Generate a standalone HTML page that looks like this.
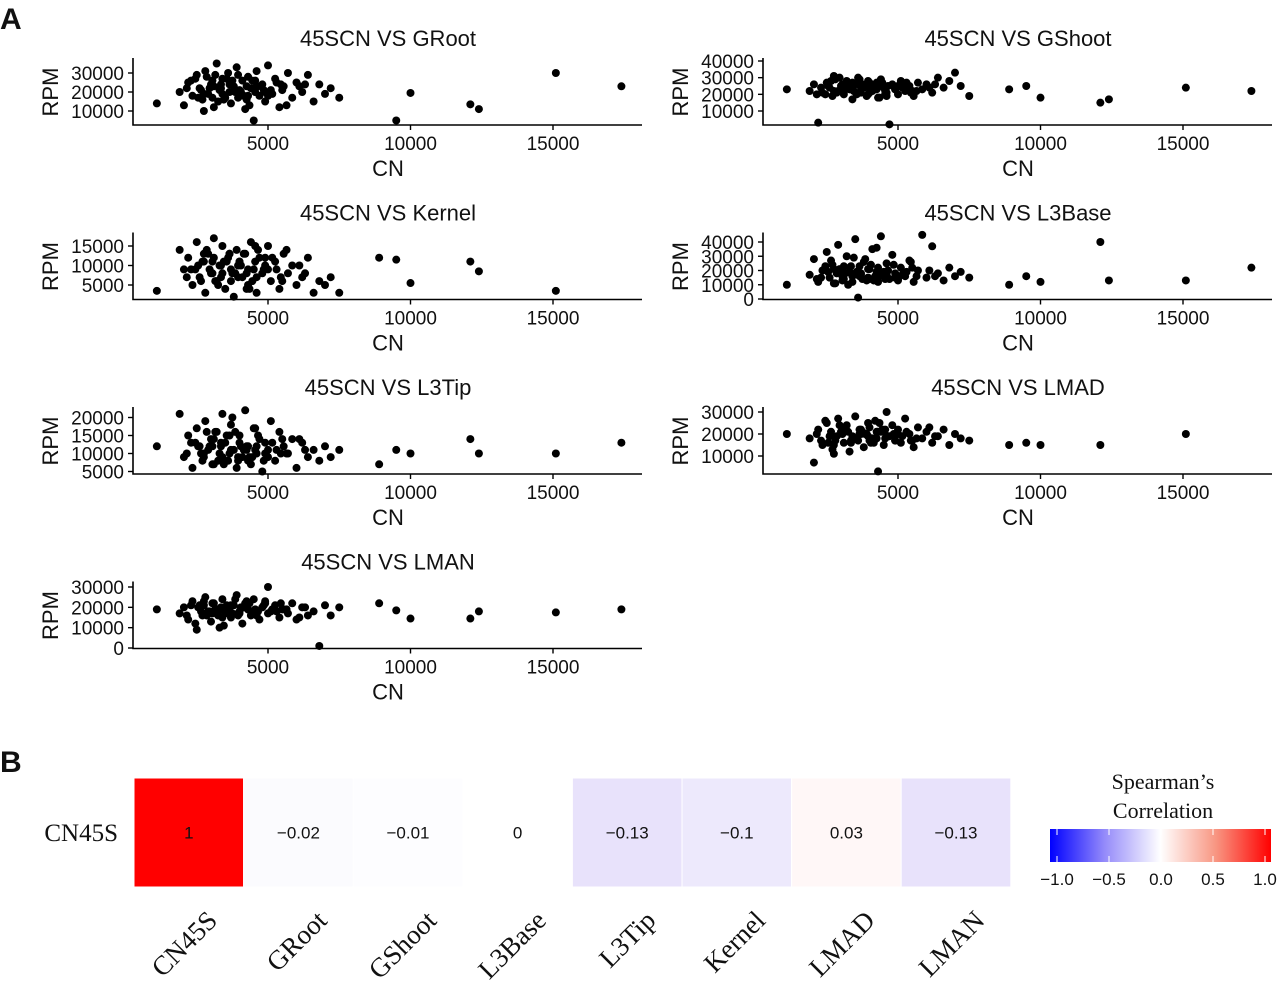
<!DOCTYPE html>
<html><head><meta charset="utf-8"><style>
html,body{margin:0;padding:0;background:#fff;}
svg{display:block;}
.t{font-family:"Liberation Sans",sans-serif;fill:#111;}
.s{font-family:"Liberation Serif",serif;fill:#111;}
</style></head><body>
<svg id="fig" width="1280" height="987" xmlns="http://www.w3.org/2000/svg">
<text x="0" y="29" class="t" font-size="30" font-weight="bold">A</text>
<text x="0" y="772" class="t" font-size="30" font-weight="bold">B</text>
<g id="scatters"></g>
<g id="heat"></g>
</svg>
<script>
const cn = [1100,1900,2050,2200,2350,2500,2600,2700,2800,2900,
3000,3100,3200,3300,3400,3500,3600,3700,3800,3900,
4000,4100,4200,4300,4400,4500,4600,4700,4800,4900,
5000,5100,5250,5400,5550,5700,5850,6000,6200,6400,
6600,6800,7000,7200,7500,2450,2750,3150,3450,3750,
4050,4350,4650,8900,9500,10000,12100,12400,15100,17400,
2300,2650,2850,3050,3350,3650,3950,4250,4550,4850,
5150,5450,3250,3550,2950,4150,4450,3850,5650,6100,
2150,2550,3100,3400,3700,4000,4300,4600,4900,5300,
2750,3050,3350,3650,3950,4250,4550,5000,5500,6300];
const rpmGRoot = [14000,20000,13000,25000,18000,29000,22000,16000,31000,19000,
24000,12000,35000,21000,27000,17000,30000,14000,23000,33000,
19000,26000,11000,28000,22000,5000,31000,18000,24000,15000,
34000,21000,27000,12000,23000,30000,17000,25000,20000,29000,
15000,24000,19000,22000,17000,27000,10000,29000,16000,26000,
20000,13000,23000,null,5000,19500,13500,11000,30000,23000,
26000,21000,28000,17000,24000,20000,29000,16000,26000,21000,
19000,24000,15000,27000,22000,18000,26000,20000,13000,23000,
22000,17000,23000,19000,25000,21000,18000,23000,20000,25000,
19000,26000,22000,24000,17000,23000,20000,18000,21000,24000];
const rpmGShoot = [23000,22000,26000,3000,21000,27000,24000,19000,29000,22000,
25000,20000,28000,23000,17000,26000,30000,21000,24000,19000,
27000,22000,25000,18000,29000,24000,21000,2000,26000,23000,
20000,28000,22000,25000,19000,27000,23000,26000,21000,30000,
24000,28000,33000,25000,19000,20000,31000,24000,22000,26000,
23000,18000,25000,23000,25000,18000,15000,17000,24000,22000,
24000,28000,21000,26000,23000,29000,20000,27000,22000,25000,
24000,21000,26000,20000,30000,23000,27000,25000,22000,24000,
20000,25000,22000,27000,24000,21000,26000,19000,23000,27000,
22000,24000,26000,21000,28000,23000,20000,25000,22000,26000];
const rpmKernel = [3500,14000,9000,12000,5000,16000,7000,11000,3000,13000,
8000,17000,6000,10000,15000,4000,12000,9000,2000,14000,
11000,7000,13000,5000,16000,9000,3000,12000,8000,10000,
15000,6000,11000,4000,13000,8000,10000,5000,7000,12000,
3000,6000,5000,7000,3000,9000,13000,6000,11000,8000,
10000,4000,14000,12000,11500,5500,11000,8500,3500,null,
9000,6000,14000,11000,7000,13000,10000,4000,15000,9000,
12000,7000,5000,11000,9000,13000,6000,8000,14000,10000,
7000,10000,12000,8000,6000,11000,9000,7000,12000,9000,
11000,8000,10000,13000,7000,8000,11000,9000,6000,8000];
const rpmL3Base = [10000,17000,28000,12000,20000,33000,15000,24000,11000,38000,
19000,14000,30000,22000,12000,42000,1000,17000,26000,13000,
21000,35000,16000,12000,44000,19000,25000,14000,31000,18000,
13000,22000,16000,27000,12000,20000,45000,15000,37000,18000,
13000,22000,16000,19000,15000,23000,11000,18000,29000,14000,
24000,16000,20000,10000,16000,12000,40000,13000,13000,22000,
15000,27000,18000,13000,23000,16000,21000,36000,14000,24000,
17000,26000,10000,19000,21000,13000,18000,28000,16000,20000,
14000,19000,23000,16000,18000,14000,22000,17000,15000,19000,
21000,16000,18000,23000,15000,19000,17000,14000,22000,16000];
const rpmL3Tip = [12000,21000,9000,15000,6000,17000,12000,8000,19000,11000,
14000,7000,16000,10000,21000,13000,8000,18000,11000,6000,
15000,9000,22000,12000,7000,17000,10000,14000,5000,13000,
11000,19000,8000,16000,12000,10000,14000,6000,13000,9000,
11000,8000,12000,9000,11000,13000,10000,16000,7000,20000,
12000,9000,15000,7000,11000,10000,14000,10000,10000,13000,
13000,10000,16000,7000,12000,15000,9000,11000,17000,8000,
13000,10000,8000,15000,12000,11000,9000,16000,10000,14000,
10000,12000,14000,9000,11000,13000,8000,12000,10000,11000,
9000,12000,13000,10000,8000,12000,11000,9000,14000,11000];
const rpmLMAD = [20000,18000,7000,22000,15000,25000,19000,13000,17000,27000,
21000,16000,24000,12000,19000,28000,17000,22000,14000,20000,
23000,18000,26000,3000,21000,15000,30000,19000,24000,17000,
22000,16000,27000,20000,14000,23000,18000,21000,16000,19000,
22000,15000,20000,18000,17000,26000,11000,23000,18000,21000,
16000,25000,19000,15000,16000,15000,15000,null,20000,null,
17000,21000,19000,23000,16000,20000,25000,18000,22000,20000,
19000,17000,21000,18000,24000,16000,22000,20000,18000,23000,
20000,16000,22000,18000,20000,17000,21000,19000,17000,21000,
15000,20000,17000,22000,19000,21000,18000,20000,17000,19000];
const rpmLMAN = [19000,17000,20000,14000,23000,9000,21000,16000,25000,18000,
13000,22000,19000,10000,24000,17000,20000,15000,21000,26000,
18000,12000,22000,19000,16000,24000,17000,14000,20000,23000,
30000,18000,21000,15000,19000,17000,22000,14000,20000,16000,
18000,1000,21000,16000,20000,12000,23000,19000,11000,17000,
20000,22000,18000,22000,18500,14500,14500,18000,17500,19000,
21000,18000,16000,22000,19000,20000,17000,23000,18000,21000,
19000,22000,16000,21000,18000,20000,17000,24000,19000,15000,
16000,20000,18000,15000,21000,17000,19000,16000,22000,18000,
21000,17000,20000,18000,16000,21000,19000,17000,19000,20000];
const xTicks = [5000,10000,15000];
const tickGRoot = [10000,20000,30000];
const tickGShoot = [10000,20000,30000,40000];
const tickKernel = [5000,10000,15000];
const tickL3Base = [0,10000,20000,30000,40000];
const tickL3Tip = [5000,10000,15000,20000];
const tickLMAD = [10000,20000,30000];
const tickLMAN = [0,10000,20000,30000];

const heatLabels = ["CN45S","GRoot","GShoot","L3Base","L3Tip","Kernel","LMAD","LMAN"];
const heatValues = [1,-0.02,-0.01,0,-0.13,-0.1,0.03,-0.13];
const heatText = ["1","\u22120.02","\u22120.01","0","\u22120.13","\u22120.1","0.03","\u22120.13"];
const legendTicks = [-1,-0.5,0,0.5,1];
const legendTickText = ["\u22121.0","\u22120.5","0.0","0.5","1.0"];

const NS="http://www.w3.org/2000/svg";
function mk(tag,attrs,parent){const e=document.createElementNS(NS,tag);for(const k in attrs)e.setAttribute(k,attrs[k]);parent.appendChild(e);return e;}

const panels = [
 ["GRoot",rpmGRoot,tickGRoot,0,0,30000,73,10000,111],
 ["GShoot",rpmGShoot,tickGShoot,1,0,40000,61,10000,111],
 ["Kernel",rpmKernel,tickKernel,0,1,15000,71.5,5000,110.5],
 ["L3Base",rpmL3Base,tickL3Base,1,1,40000,67.5,0,124.5],
 ["L3Tip",rpmL3Tip,tickL3Tip,0,2,20000,68.5,5000,122.5],
 ["LMAD",rpmLMAD,tickLMAD,1,2,30000,63,10000,107],
 ["LMAN",rpmLMAN,tickLMAN,0,3,30000,63.5,0,124.5]
];
const sc=document.getElementById('scatters');
panels.forEach(p=>{
 const [name,rpm,ticks,col,row,v1,p1,v2,p2]=p;
 const off=row*174.5;
 const x0=col?755.5:125.5, axL=col?763:133, axR=col?1272:642, cx=col?1018:388;
 const xs=v=>x0+v*0.0285;
 const ys=v=>off+p1+(v-v1)*(p2-p1)/(v2-v1);
 const g=mk('g',{},sc);
 
 
 const tt=mk('text',{x:cx,y:off+46,'text-anchor':'middle','font-size':22,class:'t'},g);
 tt.textContent='45SCN VS '+name;
 
 
 const ax=mk('path',{d:`M${axL} ${off+58}V${off+125}H${axR}`,stroke:'#000','stroke-width':1.6,fill:'none'},g);
 
 
 xTicks.forEach(t=>{
  const x=xs(t);
  const l=mk('line',{x1:x,x2:x,y1:off+125,y2:off+130,stroke:'#000','stroke-width':1.4},g);
  
  
  const tx=mk('text',{x:x,y:off+150,'text-anchor':'middle','font-size':19,class:'t'},g);
  tx.textContent=t;
  
  
 });
 ticks.forEach(t=>{
  const y=ys(t);
  const l=mk('line',{x1:axL-5,x2:axL,y1:y,y2:y,stroke:'#000','stroke-width':1.4},g);
  
  
  const tx=mk('text',{x:axL-9,y:y+7,'text-anchor':'end','font-size':19,class:'t'},g);
  tx.textContent=t;
  
  
 });
 const xt=mk('text',{x:cx,y:off+176,'text-anchor':'middle','font-size':22,class:'t'},g);
 xt.textContent='CN';
 
 
 const yx=col?680:50, yy=off+92;
 const yt=mk('text',{x:yx,y:yy,'text-anchor':'middle','font-size':22,class:'t',transform:`rotate(-90 ${yx} ${yy}) translate(0 8)`},g);
 yt.textContent='RPM';
 
 
 cn.forEach((c,i)=>{
  if(rpm[i]==null) return;
  const d=mk('circle',{cx:xs(c),cy:ys(rpm[i]),r:4,fill:'#000'},g);
  
  
 });
});

function cellCol(v){
 if(v>=0){const f=v; return `rgb(255,${Math.round(255-255*f)},${Math.round(255-255*f)})`;}
 const f=Math.min(1,-v);
 const c=x=>Math.max(0,Math.round(x));
 return `rgb(${c(255-177*f)},${c(255-223*f)},${c(255-30*f)})`;
}
const legStops=[[0,'rgb(0,0,255)'],[0.25,'rgb(150,140,250)'],[0.5,'rgb(255,255,255)'],[0.75,'rgb(248,150,130)'],[1,'rgb(255,0,0)']];
const hg=document.getElementById('heat');
const tw=109.6, hx0=134, hy0=778, th=109;
const rl=mk('text',{x:118,y:841,'text-anchor':'end','font-size':25,class:'s'},hg);
rl.textContent='CN45S';


heatLabels.forEach((lab,i)=>{
 const x=hx0+i*tw;
 const r=mk('rect',{x:x,y:hy0,width:tw,height:th,fill:cellCol(heatValues[i]),stroke:'#fff','stroke-width':1},hg);
 
 
 const v=mk('text',{x:x+tw/2,y:hy0+th/2+6,'text-anchor':'middle','font-size':17,class:'t'},hg);
 v.textContent=heatText[i];
 
 
 const lx=x+tw/2+30, ly=922;
 const l=mk('text',{x:lx,y:ly,'text-anchor':'end','font-size':27,class:'s',transform:`rotate(-45 ${lx} ${ly})`},hg);
 l.textContent=lab;
 
 
});
const lt1=mk('text',{x:1163,y:789,'text-anchor':'middle','font-size':22,class:'s'},hg);
lt1.textContent='Spearman\u2019s';


const lt2=mk('text',{x:1163,y:818,'text-anchor':'middle','font-size':22,class:'s'},hg);
lt2.textContent='Correlation';


const defs=mk('defs',{},hg);
const gr=mk('linearGradient',{id:'cg',x1:0,x2:1,y1:0,y2:0},defs);
legStops.forEach(s=>mk('stop',{offset:s[0],'stop-color':s[1]},gr));
const bar=mk('rect',{x:1050,y:829,width:221,height:33,fill:'url(#cg)'},hg);


const lxs=v=>1057+(v+1)*104;
legendTicks.forEach((t,i)=>{
 const x=lxs(t);
 const l=mk('line',{x1:x,x2:x,y1:829,y2:835,stroke:'#fff','stroke-width':1},hg);
 
 
 const l2=mk('line',{x1:x,x2:x,y1:856,y2:862,stroke:'#fff','stroke-width':1},hg);
 
 
 const tx=mk('text',{x:x,y:885,'text-anchor':'middle','font-size':17,class:'t'},hg);
 tx.textContent=legendTickText[i];
 
 
});
</script>
</body></html>
